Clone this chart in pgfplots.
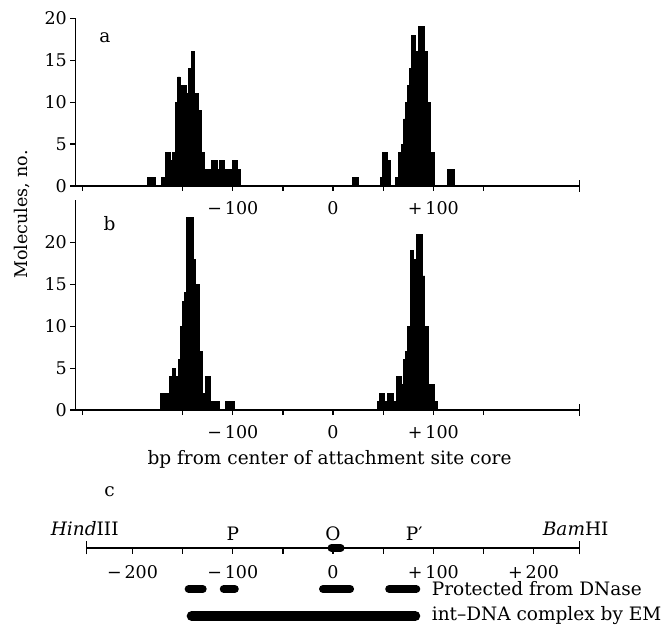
\documentclass[border=0pt]{standalone}
\usepackage{pgfplots}
\pgfplotsset{compat=1.18}
\usepackage{fontspec}
\setmainfont{DejaVu Serif}
\newcommand{\tf}{\fontsize{18.5}{22}\selectfont}
\newcommand{\nf}{\fontsize{17.5}{20}\selectfont}
\begin{document}
\begin{tikzpicture}[font=\tf, x=1pt, y=1pt]
\useasboundingbox (0,0) rectangle (667,630);
\pgfplotsset{
  hist/.style={
    scale only axis, clip=false,
    axis x line=bottom, axis y line=left,
    axis line style={-, line width=1.3pt},
    every tick/.style={line width=1.2pt, black},
    tick label style={font=\nf},
    xticklabel style={yshift=-7pt},
    tick align=outside, major tick length=5pt,
    xmin=-257, xmax=246, width=504.3pt,
    xtick={-250,-150,-100,-50,0,50,100,150},
    xticklabels={,,−\,100,,0,,+\,100,},
    extra x ticks={246}, extra x tick labels={},
    extra x tick style={tick align=center, major tick length=12pt},
    ytick={0,5,10,15,20}, yticklabels={0,5,10,15,20},
    ymin=0,
  },
  histbar/.style={const plot, fill=black, draw=black, line width=0.8pt, line join=miter},
}
% ---------------- panel a ----------------
\begin{axis}[hist, at={(75.4pt,444pt)}, anchor=south west, height=167.7pt, ymax=20]
\addplot[histbar] coordinates {
(-185.5,1) (-177.5,0) (-171,1) (-167.5,4) (-162.5,3) (-160,4) (-157.5,10)
(-155,13) (-152.5,12) (-146,11) (-144,14) (-141,16) (-138,11) (-134.5,9)
(-131.5,4) (-128,2) (-121.5,3) (-115,2) (-113,3) (-108.5,2) (-100,3) (-95,2) (-92,0)
} \closedcycle;
\addplot[histbar] coordinates {
(19.5,1) (25.5,0) (47,1) (49.5,4) (54,3) (57,0) (62,1) (65,4) (68.5,5) (70.5,8)
(72,10) (74,12) (76,14) (78.5,18) (82.5,16) (85.5,19) (91,16) (94,10) (97.5,4)
(101,0) (114.5,2) (121,0)
} \closedcycle;
\node at (axis cs:-227.5,17.7) {a};
\node[rotate=90, font=\nf] at (axis cs:-310,-3.4) {Molecules, no.};
\end{axis}
% ---------------- panel b ----------------
\begin{axis}[hist, at={(75.4pt,220pt)}, anchor=south west, height=209.5pt, ymax=25]
\addplot[histbar] coordinates {
(-172,2) (-163,4) (-160.5,5) (-157,4) (-154.5,6) (-152,10) (-150,13) (-148.5,14)
(-146.5,23) (-139.5,18) (-137,15) (-133.5,7) (-130,2) (-127.5,4) (-122,1)
(-113.5,0) (-107,1) (-98.5,0)
} \closedcycle;
\addplot[histbar] coordinates {
(44,1) (46.5,2) (51.5,1) (54,2) (60,1) (63,4) (68,3) (70.3,6) (72,7) (74.5,10)
(77,19) (80.5,18) (83,21) (89,16) (91.5,10) (95,3) (101,1) (104.5,0)
} \closedcycle;
\node at (axis cs:-223,22.3) {b};
\node at (axis cs:-3.5,-5.9) {bp from center of attachment site core};
\end{axis}
% ---------------- panel c ----------------
\begin{axis}[scale only axis, clip=false, at={(86.4pt,0pt)}, anchor=south west,
  width=493.3pt, height=142pt, xmin=-246, xmax=246, ymin=-82, ymax=60,
  axis x line=middle, axis y line=none,
  axis line style={-, line width=1.3pt},
  every tick/.style={line width=1.2pt, black},
  tick label style={font=\nf},
  xticklabel style={yshift=-8pt},
  tick align=outside, major tick length=6pt,
  xtick={-200,-150,-100,-50,0,50,100,150,200},
  xticklabels={−\,200,,−\,100,,0,,+\,100,,+\,200},
  extra x ticks={-246,246}, extra x tick labels={},
  extra x tick style={tick align=center, major tick length=13pt}]
\addplot[line width=8pt, line cap=round] coordinates {(-1.5,0) (7.5,0)};
\addplot[line width=8pt, line cap=round] coordinates {(-144,-41) (-130,-41)};
\addplot[line width=8pt, line cap=round] coordinates {(-109,-41) (-98,-41)};
\addplot[line width=8pt, line cap=round] coordinates {(-10,-41) (17,-41)};
\addplot[line width=8pt, line cap=round] coordinates {(56,-41) (83,-41)};
\addplot[line width=10pt, line cap=round] coordinates {(-141,-68) (82,-68)};
\node at (axis cs:-247.7,19.5) {\textit{Hind}III};
\node at (axis cs:242,19.5) {\textit{Bam}HI};
\node at (axis cs:-100,14) {P};
\node at (axis cs:0,14) {O};
\node at (axis cs:81,14) {P′};
\node[anchor=west] at (axis cs:95,-41) {Protected from DNase};
\node[anchor=west] at (axis cs:95,-68) {int–DNA complex by EM};
\node at (axis cs:-223,56) {c};
\end{axis}
\end{tikzpicture}
\end{document}
